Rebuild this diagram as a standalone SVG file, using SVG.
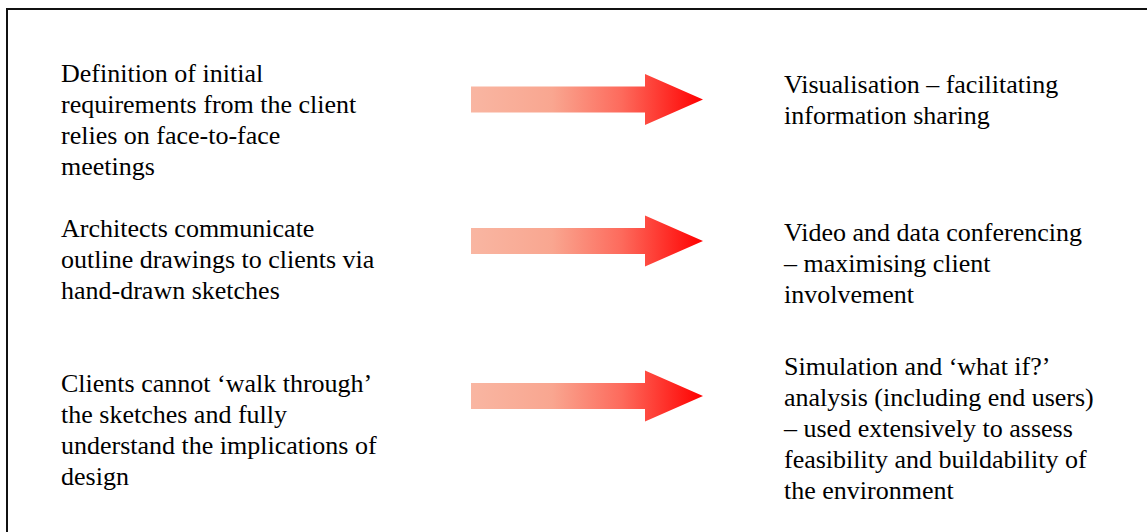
<svg xmlns="http://www.w3.org/2000/svg" width="1147" height="532" viewBox="0 0 1147 532">
<style>
text{font-family:"Liberation Serif","Times New Roman",serif;font-size:26px;fill:#000}
.arrow{fill:url(#g)}
</style>
<defs>
<linearGradient id="g" x1="0" y1="0" x2="1" y2="0">
<stop offset="0" stop-color="#F9B6A2"/>
<stop offset="0.35" stop-color="#F9A690"/>
<stop offset="0.65" stop-color="#FD6A5C"/>
<stop offset="1" stop-color="#FF0000"/>
</linearGradient>
</defs>
<rect width="1147" height="532" fill="#fff"/>
<path d="M7 540 V9 H1160" fill="none" stroke="#111" stroke-width="2"/>
<g id="left1"><text x="61" y="82">Definition of initial</text><text x="61" y="113">requirements from the client</text><text x="61" y="144">relies on face-to-face</text><text x="61" y="175">meetings</text></g>
<g id="left2"><text x="61" y="237">Architects communicate</text><text x="61" y="268">outline drawings to clients via</text><text x="61" y="299">hand-drawn sketches</text></g>
<g id="left3"><text x="61" y="392">Clients cannot ‘walk through’</text><text x="61" y="423">the sketches and fully</text><text x="61" y="454">understand the implications of</text><text x="61" y="485">design</text></g>
<g id="right1"><text x="784" y="93">Visualisation – facilitating</text><text x="784" y="124">information sharing</text></g>
<g id="right2"><text x="784" y="241">Video and data conferencing</text><text x="784" y="272">– maximising client</text><text x="784" y="303">involvement</text></g>
<g id="right3"><text x="784" y="375">Simulation and ‘what if?’</text><text x="784" y="406">analysis (including end users)</text><text x="784" y="437">– used extensively to assess</text><text x="784" y="468">feasibility and buildability of</text><text x="784" y="499">the environment</text></g>
<g id="connectors">
<path class="arrow" d="M471 86.5 H645 V74 L703 99.5 L645 125 V112.5 H471 Z"/>
<path class="arrow" d="M471 228 H645 V215.5 L703 241 L645 266.5 V254 H471 Z"/>
<path class="arrow" d="M471 383 H645 V370.5 L703 396 L645 421.5 V409 H471 Z"/>
</g>
</svg>
